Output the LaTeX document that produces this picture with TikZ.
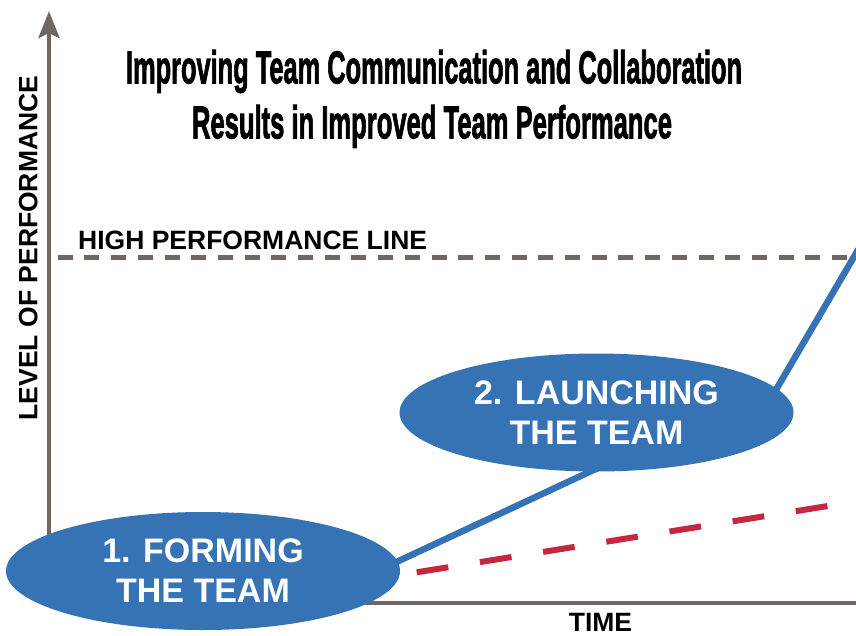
\documentclass[tikz,border=0pt]{standalone}
\usepackage{fontspec}
\setmainfont{Liberation Sans}
\newfontfamily\titlefont{Liberation Sans}[BoldFeatures={FakeBold=2.2}]
\usepackage{graphicx}
\usetikzlibrary{shapes.geometric, arrows.meta, positioning}
\definecolor{teamblue}{RGB}{53,115,181}
\definecolor{axisgray}{RGB}{112,103,100}
\definecolor{flatred}{RGB}{197,38,64}
\newcommand\squeezed[2]{\resizebox{#1}{\height}{\titlefont\bfseries #2}}

\begin{document}
\begin{tikzpicture}[x=1pt, y=-1pt,
    phase/.style={ellipse, fill=teamblue, text=white, inner sep=0pt,
      minimum width=394pt, minimum height=118pt, align=center,
      font=\fontsize{34}{40}\selectfont\bfseries},
    axislabel/.style={inner sep=0pt, font=\fontsize{26.5}{30}\selectfont\bfseries},
    titleline/.style={anchor=base, inner sep=0pt, font=\fontsize{46}{50}\selectfont}]
  \useasboundingbox (0,0) rectangle (856,635);
  % title
  \node[titleline] (title1) at (434,83.3) {\squeezed{616pt}{Improving Team Communication and Collaboration}};
  \node[titleline] (title2) at (432,138.3) {\squeezed{480pt}{Results in Improved Team Performance}};
  % axes
  \coordinate (origin) at (49,603);
  \coordinate (xend) at (858,603);
  \coordinate (ytop) at (49,11);
  \draw[axisgray, line width=4.7pt, -{Stealth[length=27pt, width=21pt, inset=5pt]}]
    (xend) -- (origin) -- (ytop);
  \node[axislabel, rotate=90] (ylab) at (28.3,248) {LEVEL OF PERFORMANCE};
  \node[axislabel, anchor=base] (xlab) at (600.5,631.5) {TIME};
  % high performance line
  \coordinate (hp0) at (51,257);
  \coordinate (hp1) at (858,257);
  \draw[axisgray, line width=5pt, dash pattern=on 15pt off 11.7pt, dash phase=20pt] (hp0) -- (hp1);
  \node[axislabel, anchor=base west] (hplab) at (78,249.5) {HIGH PERFORMANCE LINE};
  % flat trend
  \coordinate (flat0) at (416.7,572.3);
  \coordinate (flat1) at (834,505);
  \draw[flatred, line width=6pt, dash pattern=on 32pt off 32pt] (flat0) -- (flat1);
  % improved trend
  \coordinate (climb0) at (330,593);
  \coordinate (climb1) at (650,443.6);
  \coordinate (climb2) at (760,417);
  \coordinate (climb3) at (860,246.5);
  \draw[teamblue, line width=6.5pt, line join=round] (climb0) -- (climb1) -- (climb2) -- (climb3);
  % phases
  \node[phase] (forming) at (203,571) {1. FORMING\\THE TEAM};
  \node[phase] (launching) at (596.5,412.5) {2. LAUNCHING\\THE TEAM};
\end{tikzpicture}
\end{document}
